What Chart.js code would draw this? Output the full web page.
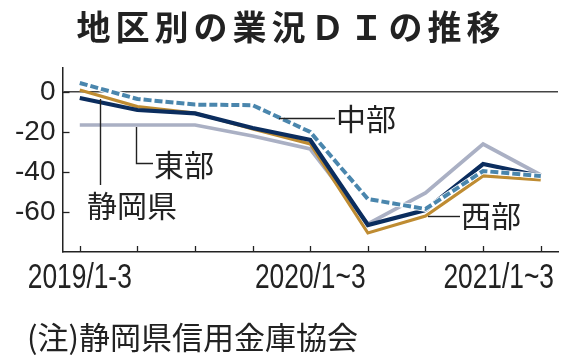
<!DOCTYPE html>
<html><head><meta charset="utf-8">
<script src="https://cdn.jsdelivr.net/npm/chart.js@4.4.1/dist/chart.umd.min.js"></script>
<style>html,body{margin:0;padding:0;background:#fff;}#wrap{width:577px;height:356px;position:relative;}</style>
</head><body><div id="wrap"><canvas id="c" width="577" height="356"></canvas></div>
<script>
const categories = ['2019/1-3','2019/4-6','2019/7-9','2019/10-12','2020/1~3','2020/4-6','2020/7-9','2020/10-12','2021/1~3'];
const xTickLabels = ['2019/1-3','','','','2020/1~3','','','','2021/1~3'];
const yTicks = [0,-20,-40,-60];
const shizuoka = [-3, -9, -10.7, -18, -24, -66.5, -59, -36, -42];
const tobu     = [-16.5, -16.5, -16.5, -22, -28.5, -66, -50.5, -26, -41.5];
const chubu    = [4.5, -3.5, -6.3, -6.6, -20, -53.5, -58.5, -39.5, -42];
const seibu    = [1, -7.3, -10.5, -18.5, -26, -70.5, -62, -42, -44];
const titleText = '地区別の業況ＤＩの推移';
const noteText = '(注)静岡県信用金庫協会';

const pts = arr => arr.map((v,i)=>({x:i,y:v}));
const CJK = '"Noto Sans CJK JP", "Noto Sans", sans-serif';
const NUM = '"Liberation Sans Narrow", "Liberation Sans", "DejaVu Sans", sans-serif';

const deco = {
  id:'deco',
  afterDraw(chart){
    const ctx = chart.ctx, xs = chart.scales.x, ys = chart.scales.y, ca = chart.chartArea;
    ctx.save();
    ctx.strokeStyle = '#222'; ctx.lineWidth = 1.3;
    categories.forEach((c,i)=>{
      const x = Math.round(xs.getPixelForValue(i))+0.5;
      ctx.beginPath(); ctx.moveTo(x, ca.bottom); ctx.lineTo(x, ca.bottom-6); ctx.stroke();
    });
    yTicks.forEach(v=>{
      const y = Math.round(ys.getPixelForValue(v))+0.5;
      ctx.beginPath(); ctx.moveTo(ca.left, y); ctx.lineTo(ca.left+7, y); ctx.stroke();
    });
    ctx.fillStyle = '#222';
    ctx.font = '35px ' + NUM;
    ctx.textBaseline = 'alphabetic';
    const sx = 104 / ctx.measureText('2019/1-3').width;
    xTickLabels.forEach((t,i)=>{
      if(!t) return;
      const w = ctx.measureText(t).width * sx;
      let cx = xs.getPixelForValue(i);
      let left = cx - w/2;
      if (left + w > 554) left = 554 - w;
      ctx.save(); ctx.translate(left, 288); ctx.scale(sx,1); ctx.textAlign='left'; ctx.fillText(t,0,0); ctx.restore();
    });
    ctx.font = 'bold 34px ' + CJK;
    ctx.textAlign='left'; ctx.textBaseline='middle';
    const ls = 5; let tw = 0;
    const chars = Array.from(titleText);
    chars.forEach(ch=> tw += ctx.measureText(ch).width);
    tw += ls*(chars.length-1);
    let tx = 288.5 - tw/2;
    chars.forEach(ch=>{ ctx.fillText(ch, tx, 27); tx += ctx.measureText(ch).width + ls; });
    ctx.font = '31px ' + CJK;
    ctx.fillText(noteText, 27, 337);
    ctx.strokeStyle = '#222'; ctx.lineWidth = 1.4;
    const seg = (p)=>{ ctx.beginPath(); ctx.moveTo(p[0][0],p[0][1]); for(let k=1;k<p.length;k++) ctx.lineTo(p[k][0],p[k][1]); ctx.stroke(); };
    seg([[100.5,99],[100.5,185]]);
    seg([[136.5,127],[136.5,163.5],[153,163.5]]);
    seg([[279,118.5],[335,118.5]]);
    seg([[428,216.5],[460,216.5]]);
    ctx.font = '30px ' + CJK;
    ctx.fillText('静岡県', 87, 206);
    ctx.fillText('東部', 154, 165);
    ctx.fillText('中部', 336, 119);
    ctx.fillText('西部', 461, 216);
    ctx.restore();
  }
};

new Chart(document.getElementById('c'), {
  type:'line',
  data:{ datasets:[
    {label:'中部', data:pts(chubu), borderColor:'#4a86ad', borderWidth:4, borderDash:[8,3], order:0},
    {label:'中部casing', data:pts(chubu), borderColor:'#ffffff', borderWidth:5.5, order:1},
    {label:'静岡県', data:pts(shizuoka), borderColor:'#0b2d5e', borderWidth:4.2, order:2},
    {label:'西部', data:pts(seibu), borderColor:'#bf8c32', borderWidth:3.2, order:3},
    {label:'東部', data:pts(tobu), borderColor:'#aab0c4', borderWidth:3.7, order:4}
  ]},
  options:{
    responsive:false, animation:false,
    layout:{padding:{top:68,right:19,left:0,bottom:0}},
    elements:{point:{radius:0}, line:{tension:0, borderCapStyle:'butt', borderJoinStyle:'miter'}},
    plugins:{legend:{display:false}, tooltip:{enabled:false}, title:{display:false}},
    scales:{
      x:{type:'linear', min:-0.3, max:8.3,
        ticks:{display:false, stepSize:1},
        grid:{display:false},
        border:{display:true, color:'#222', width:1.5},
        afterFit:s=>{s.height=104;}
      },
      y:{type:'linear', min:-80, max:12,
        afterBuildTicks:s=>{s.ticks = yTicks.map(v=>({value:v}));},
        ticks:{color:'#222', padding:7, font:{family:NUM, size:28}},
        grid:{drawTicks:false, lineWidth:1.5, color:c=> (c.tick && c.tick.value===0) ? '#444' : 'rgba(0,0,0,0)'},
        border:{display:true, color:'#222', width:1.5},
        afterFit:s=>{s.width=62.5;}
      }
    }
  },
  plugins:[deco]
});
</script></body></html>
